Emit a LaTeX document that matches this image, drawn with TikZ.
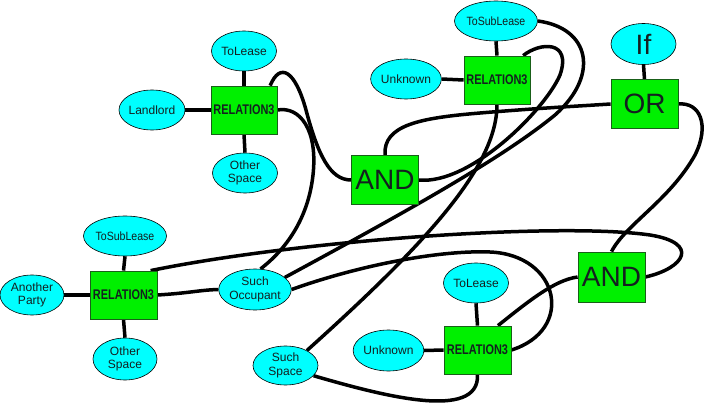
\documentclass[tikz,border=0pt]{standalone}
\usepackage{fontspec}
\setmainfont{Liberation Sans}
\usepackage{graphicx}
\usetikzlibrary{shapes.geometric}
\definecolor{ellfill}{RGB}{0,255,255}
\definecolor{boxfill}{RGB}{0,240,0}
\definecolor{boxedge}{RGB}{25,95,25}
\definecolor{txt}{RGB}{20,32,32}
\pgfdeclarelayer{bg}
\pgfsetlayers{bg,main}
\newcommand{\relthree}{\scalebox{0.78}[1]{\bfseries RELATION3}}
\newcommand{\tslabel}{\scalebox{0.88}[1]{ToSubLease}}
\tikzset{
  ell/.style={ellipse, draw=black, line width=0.6pt, fill=ellfill, inner sep=0pt,
    minimum width=65pt, minimum height=40pt, align=center, text=txt,
    font=\fontsize{12}{13.5}\selectfont},
  rel/.style={rectangle, draw=boxedge, line width=0.8pt, fill=boxfill, inner sep=0pt,
    minimum width=66pt, minimum height=48pt, text=txt,
    font=\fontsize{14}{16}\selectfont},
  logic/.style={rel, minimum width=67pt, minimum height=49pt,
    font=\fontsize{28}{30}\selectfont},
  bigell/.style={ell, font=\fontsize{28}{30}\selectfont},
  wire/.style={line width=3.5pt, draw=black}
}
\begin{document}
\begin{tikzpicture}[x=1pt,y=-1pt]
\useasboundingbox (0,0) rectangle (705,404);
% nodes
\node[rel] (R1) at (244,110) {\relthree};
\node[ell] (TL1) at (244,51) {ToLease};
\node[ell] (LL) at (152,110) {Landlord};
\node[ell] (OS1) at (245,173) {Other\\Space};
\node[rel] (R2) at (497,80) {\relthree};
\node[ell, minimum width=64pt] (TSL2) at (496,21) {\tslabel};
\node[ell] (UK2) at (406,79) {Unknown};
\node[bigell, minimum height=41pt] (IF) at (643.5,44) {If};
\node[logic] (OR) at (644.5,104) {OR};
\node[logic] (AND1) at (385,180) {AND};
\node[rel, minimum width=67pt] (R3) at (123.5,295) {\relthree};
\node[ell, minimum width=64pt] (TSL3) at (125,236) {\tslabel};
\node[ell, minimum width=64pt] (AP) at (32,295) {Another\\Party};
\node[ell, minimum width=64pt, minimum height=42pt] (OS3) at (125,359) {Other\\Space};
\node[ell, minimum width=64pt, minimum height=41pt] (SO) at (255,289.5) {Such\\Occupant};
\node[ell, minimum height=39pt] (SS) at (285.5,365.5) {Such\\Space};
\node[rel, minimum width=67pt] (R4) at (477.5,350) {\relthree};
\node[ell] (TL4) at (476,283) {ToLease};
\node[ell, minimum height=41pt] (UK4) at (388.5,350.5) {Unknown};
\node[logic, minimum height=50pt] (AND2) at (611.5,277) {AND};
% connectors
\begin{pgfonlayer}{bg}
\draw[wire] (TL1.south) -- (R1.north);
\draw[wire] (LL.east) -- (R1.west);
\draw[wire] (OS1.north) -- (R1.south);
\draw[wire] (TSL2.south) -- (R2.north);
\draw[wire] (UK2.east) -- (R2.west);
\draw[wire] (IF.south) -- (OR.north);
\draw[wire] (TSL3.south) -- (R3.north);
\draw[wire] (AP.east) -- (R3.west);
\draw[wire] (OS3.north) -- (R3.south);
\draw[wire] (TL4.south) -- (R4.north);
\draw[wire] (UK4.east) -- (R4.west);
% R1 -> AND1
\draw[wire] (R1.43) .. controls (280,62) and (295,70) .. (306,110)
  .. controls (318,155) and (330,180) .. (AND1.west);
% R1 -> Such Occupant
\draw[wire] (R1.east) .. controls (300,106) and (318,130) .. (313,175)
  .. controls (308,220) and (285,250) .. (SO.75);
% R3 -> Such Occupant
\draw[wire] (R3.east) .. controls (190,293) and (200,290) .. (SO.west);
% R3 -> AND2 (loop)
\draw[wire] (R3.42) .. controls (300,240) and (560,222) .. (650,235)
  .. controls (700,243) and (685,268) .. (AND2.east);
% Such Occupant -> R4 (loop)
\draw[wire] (SO.east) .. controls (360,265) and (440,250) .. (490,252)
  .. controls (560,255) and (575,330) .. (R4.east);
% Such Occupant -> ToSubLease2
\draw[wire] (SO.22) .. controls (400,215) and (500,160) .. (555,115)
  .. controls (600,75) and (590,28) .. (TSL2.east);
% R2 -> AND1
\draw[wire] (R2.43) .. controls (540,42) and (572,40) .. (560,75)
  .. controls (545,110) and (470,185) .. (AND1.east);
% AND1 -> OR
\draw[wire] (AND1.north) .. controls (383,125) and (420,118) .. (480,113)
  .. controls (540,108) and (580,106) .. (OR.west);
% OR -> AND2
\draw[wire] (OR.east) .. controls (700,102) and (710,125) .. (695,155)
  .. controls (670,200) and (625,225) .. (AND2.north);
% AND2 -> R4
\draw[wire] (AND2.west) .. controls (555,280) and (530,300) .. (R4.50);
% Such Space -> R4
\draw[wire] (SS.-20) .. controls (380,395) and (480,422) .. (R4.south);
% R2 -> Such Space
\draw[wire] (R2.south) .. controls (497,165) and (430,240) .. (SS.35);
\end{pgfonlayer}
\end{tikzpicture}
\end{document}
